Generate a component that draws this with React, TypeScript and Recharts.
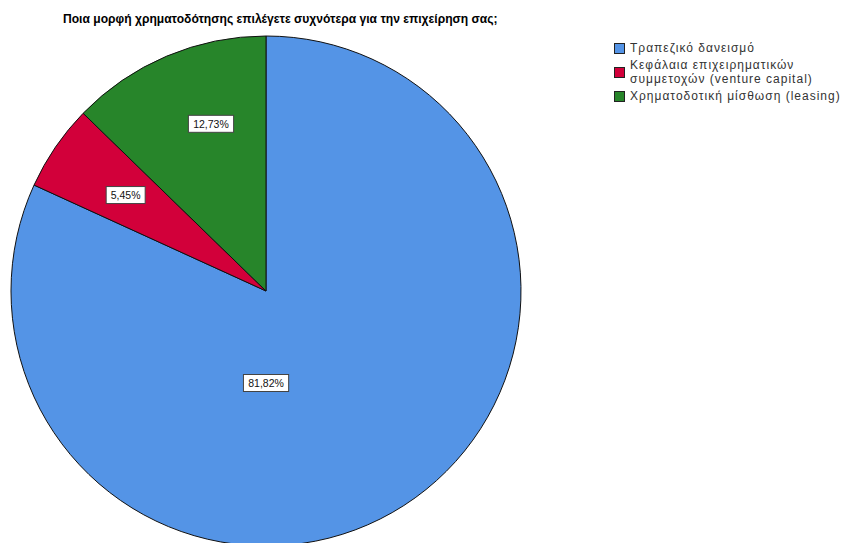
import React from 'react';
import { PieChart, Pie, Cell, Legend } from 'recharts';

const TITLE = 'Ποια μορφή χρηματοδότησης επιλέγετε συχνότερα για την επιχείρηση σας;';
const categories = [
  'Τραπεζικό δανεισμό',
  'Κεφάλαια επιχειρηματικών συμμετοχών (venture capital)',
  'Χρηματοδοτική μίσθωση (leasing)',
];
const legendLines = [
  ['Τραπεζικό δανεισμό'],
  ['Κεφάλαια επιχειρηματικών', 'συμμετοχών (venture capital)'],
  ['Χρηματοδοτική μίσθωση (leasing)'],
];
const counts = [45, 3, 7];
const colors = ['#5494E6', '#D2003A', '#27852A'];

// label placement style (radius in px, angle shift in degrees)
const labelRadius = [92, 170, 176];
const labelAngleShift = [-32.7, 0, -4.7];
const legendGaps = [3, 3, 0];

const data = categories.map((name, i) => ({ name, value: counts[i] }));
const total = counts.reduce((a, b) => a + b, 0);

const RAD = Math.PI / 180;

const renderLabel = (props: any) => {
  const { cx, cy, midAngle, index, value } = props;
  const ang = midAngle + labelAngleShift[index];
  const r = labelRadius[index];
  const x = cx + r * Math.cos(-ang * RAD);
  const y = cy + r * Math.sin(-ang * RAD);
  const txt = ((value / total) * 100).toFixed(2).replace('.', ',') + '%';
  const w = txt.length * 6.2 + 8;
  const h = 17;
  return (
    <g>
      <rect x={x - w / 2} y={y - h / 2} width={w} height={h} fill="#ffffff" stroke="#444" strokeWidth={1} />
      <text x={x} y={y + 4} textAnchor="middle" fontSize={10.5} fill="#111" fontFamily="Liberation Sans, Arial, sans-serif">
        {txt}
      </text>
    </g>
  );
};

const renderLegend = () => (
  <div style={{ fontFamily: 'Liberation Sans, Arial, sans-serif', fontSize: 12, letterSpacing: '1px', color: '#333', lineHeight: '14px', whiteSpace: 'nowrap' }}>
    {legendLines.map((lines, i) => (
      <div key={i} style={{ display: 'flex', alignItems: 'center', marginBottom: legendGaps[i] }}>
        <div style={{ width: 9, height: 9, background: colors[i], border: '1px solid #222', marginRight: 5, flexShrink: 0 }} />
        <div>
          {lines.map((l, j) => (
            <div key={j}>{l}</div>
          ))}
        </div>
      </div>
    ))}
  </div>
);

export default function App() {
  return (
    <div style={{ position: 'fixed', left: 0, top: 0, width: 843, height: 543, background: '#fff', overflow: 'hidden' }}>
      <PieChart width={843} height={543} margin={{ top: 0, right: 0, bottom: 0, left: 0 }}>
        <text x={63} y={23} fontSize={12.1} fontWeight="bold" fill="#000" fontFamily="Liberation Sans, Arial, sans-serif">
          {TITLE}
        </text>
        <Pie
          data={data}
          dataKey="value"
          nameKey="name"
          cx={266}
          cy={291}
          outerRadius={255}
          startAngle={90}
          endAngle={-270}
          stroke="#111"
          strokeWidth={1}
          label={renderLabel}
          labelLine={false}
          isAnimationActive={false}
        >
          {data.map((d, i) => (
            <Cell key={d.name} fill={colors[i]} />
          ))}
        </Pie>
        <Legend
          content={renderLegend}
          wrapperStyle={{ position: 'absolute', left: 614, top: 41, width: 229, overflow: 'hidden' }}
        />
      </PieChart>
    </div>
  );
}
